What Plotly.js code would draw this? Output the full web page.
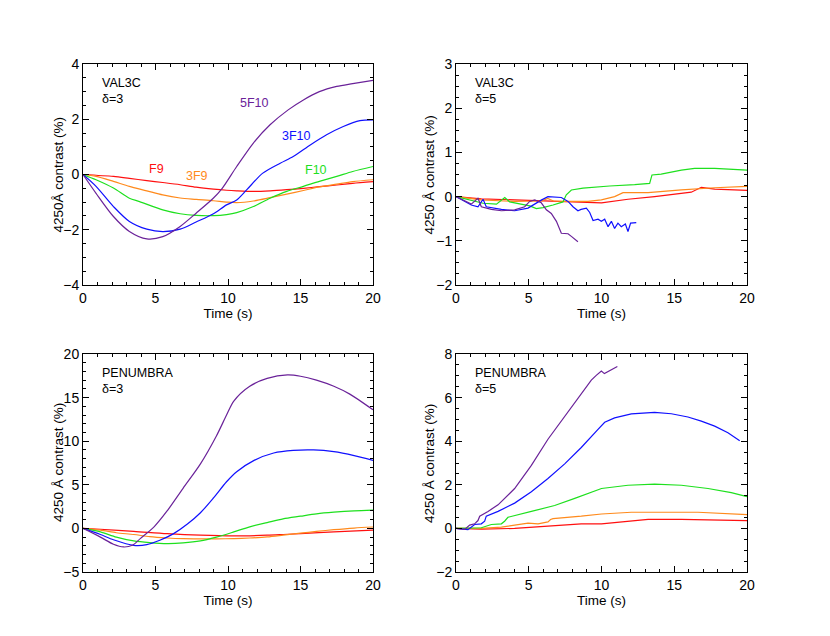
<!DOCTYPE html>
<html><head><meta charset="utf-8">
<script src="https://cdn.plot.ly/plotly-3.0.1.min.js"></script>
<style>body{margin:0;background:#fff}#c{width:830px;height:636px}</style>
</head><body><div id="c"></div>
<script>
// ---------- Panel 1: VAL3C, delta=3 ----------
const p1_F9_t   = [0,2.1,3.2,4.4,5.5,6.7,7.8,9.0,9.9,10.6,11.75,12.9,14.05,15.2,16.3,17.5,18.6,20];
const p1_F9_y   = [0,-0.07,-0.14,-0.22,-0.29,-0.37,-0.46,-0.53,-0.57,-0.59,-0.61,-0.59,-0.55,-0.5,-0.44,-0.38,-0.32,-0.26];
const p1_3F9_t  = [0,0.9,2.1,3.2,4.4,5.5,6.7,7.8,9.0,9.9,10.6,11.75,12.9,14.05,15.2,16.3,17.5,18.6,20];
const p1_3F9_y  = [0,-0.07,-0.25,-0.43,-0.59,-0.74,-0.85,-0.9,-0.95,-1.0,-1.02,-0.96,-0.84,-0.71,-0.58,-0.45,-0.35,-0.26,-0.19];
const p1_F10_t  = [0,0.9,2.1,3.2,3.9,5.5,6.7,7.8,9.0,9.9,10.6,11.75,12.9,14.05,15.2,16.3,17.5,18.6,20];
const p1_F10_y  = [0,-0.19,-0.49,-0.86,-0.98,-1.28,-1.42,-1.48,-1.49,-1.45,-1.38,-1.16,-0.86,-0.61,-0.43,-0.25,-0.07,0.11,0.29];
const p1_3F10_t = [0,0.9,2.1,3.2,4.4,5.5,6.7,7.8,9.0,9.9,10.6,11.3,12.4,13.6,14.5,15.7,16.8,17.95,19.1,20];
const p1_3F10_y = [0,-0.43,-1.16,-1.7,-1.98,-2.07,-1.98,-1.72,-1.42,-1.1,-0.92,-0.55,0.05,0.41,0.65,1.08,1.44,1.74,1.95,1.98];
const p1_5F10_t = [0,0.9,2.1,3.2,4.4,5.5,6.7,7.8,9.0,9.6,10.6,11.75,12.9,14.15,15.2,16.3,17.5,18.6,20];
const p1_5F10_y = [0,-0.68,-1.52,-2.06,-2.33,-2.25,-1.88,-1.4,-0.85,-0.5,0.29,1.14,1.8,2.34,2.7,3.0,3.19,3.29,3.41];

// ---------- Panel 2: VAL3C, delta=5 ----------
const p2_F9_t   = [0,1.74,4.03,6.32,8.6,10.0,11.82,13.65,16.17,16.86,17.78,20];
const p2_F9_y   = [0,-0.05,-0.075,-0.1,-0.11,-0.14,-0.06,0,0.1,0.21,0.17,0.14];
const p2_3F9_t  = [0,1.74,4.03,5.9,6.3,6.7,7.47,9.07,9.99,10.9,11.48,13.2,15.49,17.78,20];
const p2_3F9_y  = [0,-0.075,-0.11,-0.1,-0.04,-0.1,-0.11,-0.11,-0.075,0,0.09,0.09,0.15,0.2,0.23];
const p2_F10_t  = [0,0.94,1.86,2.78,3.35,3.69,4.14,5.07,5.52,5.98,6.67,7.35,7.58,7.93,8.73,10.56,12.28,13.31,13.47,14.1,15.49,16.4,17.78,19.15,20];
const p2_F10_y  = [0,-0.08,-0.15,-0.17,-0.02,-0.12,-0.15,-0.21,-0.27,-0.25,-0.19,-0.12,0.04,0.15,0.19,0.24,0.27,0.3,0.49,0.51,0.6,0.64,0.64,0.62,0.6];
const p2_3F10_t = [0,1.05,1.51,1.86,2.08,3.12,4.03,4.95,5.86,6.32,7.24,7.7,8.04,8.38,8.6,8.96,9.19,9.42,9.76,9.99,10.22,10.45,10.68,10.9,11.13,11.36,11.64,11.82,12.0,12.39];
const p2_3F10_y = [0,-0.19,-0.23,-0.06,-0.23,-0.29,-0.32,-0.26,-0.08,0,-0.02,-0.11,-0.23,-0.32,-0.29,-0.26,-0.36,-0.54,-0.51,-0.56,-0.51,-0.68,-0.56,-0.72,-0.6,-0.68,-0.62,-0.79,-0.6,-0.59];
const p2_5F10_t = [0,1.05,1.51,1.74,2.43,3.12,4.03,4.72,5.06,5.41,5.86,6.21,6.55,6.9,7.24,7.7,7.93,8.38];
const p2_5F10_y = [0,-0.17,-0.04,-0.23,-0.29,-0.32,-0.3,-0.23,-0.11,-0.075,-0.14,-0.3,-0.38,-0.56,-0.83,-0.84,-0.9,-1.02];

// ---------- Panel 3: PENUMBRA, delta=3 ----------
const p3_F9_t   = [0,1.2,3.5,5.8,8.1,10.4,12.7,13.8,15.0,17.3,20];
const p3_F9_y   = [0,-0.1,-0.33,-0.6,-0.78,-0.86,-0.78,-0.7,-0.6,-0.4,-0.2];
const p3_3F9_t  = [0,1.2,2.3,3.5,4.6,5.8,6.9,8.1,9.2,10.4,11.5,12.7,13.8,15.0,16.1,17.3,18.7,20];
const p3_3F9_y  = [0,-0.2,-0.5,-0.7,-0.95,-1.1,-1.18,-1.2,-1.2,-1.17,-1.1,-0.98,-0.78,-0.55,-0.35,-0.15,0.04,0.16];
const p3_F10_t  = [0,1.2,2.3,3.5,4.6,5.8,6.9,8.1,9.2,10.4,11.5,12.7,13.8,15.0,16.1,17.3,18.7,20];
const p3_F10_y  = [0,-0.4,-1.0,-1.44,-1.63,-1.74,-1.67,-1.44,-1.0,-0.4,0.18,0.67,1.1,1.4,1.67,1.86,2.02,2.1];
const p3_3F10_t = [0,1.2,2.1,3.5,4.4,5.3,6.25,7.2,8.1,9.0,9.9,10.6,11.8,13.15,14.5,15.9,17.3,18.7,20];
const p3_3F10_y = [0,-0.7,-1.3,-1.94,-1.86,-1.36,-0.6,0.5,1.8,3.5,5.35,6.5,7.8,8.65,8.95,9.0,8.8,8.35,7.8];
const p3_5F10_t = [0,1.2,2.1,2.8,3.4,3.95,4.9,5.8,6.9,8.1,9.2,9.9,10.4,11.5,12.7,14.1,15.0,16.1,17.3,18.4,20];
const p3_5F10_y = [0,-1.0,-1.82,-2.13,-1.94,-1.17,0.18,2.0,4.6,7.4,10.6,13.0,14.6,16.3,17.2,17.6,17.45,17.0,16.3,15.4,13.6];

// ---------- Panel 4: PENUMBRA, delta=5 ----------
const p4_F9_t   = [0,1.74,4.03,6.32,8.61,10.0,11.36,13.2,15.49,20];
const p4_F9_y   = [0,-0.03,0,0.11,0.21,0.21,0.29,0.41,0.41,0.36];
const p4_3F9_t  = [0,1.74,3.12,4.03,4.95,5.64,6.32,6.5,6.67,8.61,10.0,12.05,14.34,16.63,20];
const p4_3F9_y  = [0,0,0.06,0.15,0.24,0.21,0.3,0.41,0.45,0.56,0.66,0.74,0.75,0.74,0.63];
const p4_F10_t  = [0,1.74,2.43,3.12,3.34,3.57,5.18,6.78,8.16,10.0,11.82,13.65,15.49,17.32,18.92,20];
const p4_F10_y  = [0,0.03,0.18,0.21,0.33,0.51,0.78,1.05,1.38,1.83,1.98,2.03,1.98,1.83,1.64,1.46];
const p4_3F10_t = [0,0.82,1.28,1.74,1.97,2.08,2.89,4.03,5.18,6.32,7.47,8.61,9.76,10.22,10.9,12.05,13.65,14.8,15.94,16.86,17.78,18.69,19.5];
const p4_3F10_y = [0,-0.06,0.18,0.21,0.33,0.56,0.78,1.16,1.68,2.29,2.96,3.71,4.54,4.87,5.07,5.25,5.32,5.26,5.11,4.92,4.69,4.39,4.02];
const p4_5F10_t = [0,0.6,0.94,1.28,1.51,1.63,2.2,2.89,4.03,5.18,6.32,7.47,8.61,9.3,9.64,9.99,10.2,10.56,11.09];
const p4_5F10_y = [0,-0.05,0.15,0.21,0.36,0.56,0.78,1.08,1.83,2.89,4.09,5.14,6.2,6.8,7.02,7.22,7.1,7.22,7.43];

const seriesNames = ["F9","3F9","F10","3F10","5F10"];
const colors = ["#ff1010","#ff8a1c","#1ee01e","#1010ff","#6a2299"];
const panelModel = ["VAL3C","VAL3C","PENUMBRA","PENUMBRA"];
const panelDelta = ["δ=3","δ=5","δ=3","δ=5"];
const yTitles = ["4250Å contrast (%)","4250 Å contrast (%)","4250 Å contrast (%)","4250 Å contrast (%)"];
const yRanges = [[-4,4],[-2,3],[-5,20],[-2,8]];
const yDticks = [2,1,5,2];
const yMinor = [0.5,0.25,1,0.5];
const smoothPanel = [true,false,true,false];
// in-panel labels for panel 1
const labelText = ["F9","3F9","F10","3F10","5F10"];
const labelX = [5.1,7.85,16.1,14.7,11.85];
const labelY = [0.2,-0.05,0.15,1.38,2.6];

const panels = [
  [[p1_F9_t,p1_F9_y],[p1_3F9_t,p1_3F9_y],[p1_F10_t,p1_F10_y],[p1_3F10_t,p1_3F10_y],[p1_5F10_t,p1_5F10_y]],
  [[p2_F9_t,p2_F9_y],[p2_3F9_t,p2_3F9_y],[p2_F10_t,p2_F10_y],[p2_3F10_t,p2_3F10_y],[p2_5F10_t,p2_5F10_y]],
  [[p3_F9_t,p3_F9_y],[p3_3F9_t,p3_3F9_y],[p3_F10_t,p3_F10_y],[p3_3F10_t,p3_3F10_y],[p3_5F10_t,p3_5F10_y]],
  [[p4_F9_t,p4_F9_y],[p4_3F9_t,p4_3F9_y],[p4_F10_t,p4_F10_y],[p4_3F10_t,p4_3F10_y],[p4_5F10_t,p4_5F10_y]]
];

const W = 830, H = 636;
const xDom = [[83/W,373/W],[456/W,747/W],[83/W,373/W],[456/W,747/W]];
const yDom = [[1-285/H,1-64/H],[1-285/H,1-64/H],[1-572/H,1-354/H],[1-572/H,1-354/H]];
const yTitleX = [58/W, 429/W, 58/W, 429/W];
const FONT = "Liberation Sans, Arial, sans-serif";

const traces = [];
const layout = {
  width: W, height: H, margin:{l:0,r:0,t:0,b:0},
  paper_bgcolor:"#fff", plot_bgcolor:"#fff", showlegend:false,
  font:{family:FONT, size:13, color:"#000"}, annotations:[]
};
panels.forEach((pan,pi)=>{
  const sx = pi===0 ? "" : String(pi+1);
  pan.forEach((s,si)=>{
    traces.push({x:s[0], y:s[1], xaxis:"x"+sx, yaxis:"y"+sx, type:"scatter", mode:"lines",
      name:seriesNames[si], line:{color:colors[si], width:1.2,
        shape: smoothPanel[pi] ? "spline" : "linear", smoothing:0.8}});
  });
  const axCommon = {showline:true, linecolor:"#000", linewidth:1, mirror:"allticks", ticks:"inside",
    ticklen:6, tickcolor:"#000", showgrid:false, zeroline:false, tickfont:{size:14, family:FONT}};
  layout["xaxis"+sx] = Object.assign({}, axCommon, {domain:xDom[pi], range:[0,20], dtick:5, tick0:0,
    minor:{dtick:1, ticklen:3, ticks:"inside", tickcolor:"#000", showgrid:false},
    anchor:"y"+sx, title:{text:"Time (s)", font:{size:13.5, family:FONT}, standoff:2}});
  layout["yaxis"+sx] = Object.assign({}, axCommon, {domain:yDom[pi], range:yRanges[pi], dtick:yDticks[pi], tick0:0,
    minor:{dtick:yMinor[pi], ticklen:3, ticks:"inside", tickcolor:"#000", showgrid:false},
    anchor:"x"+sx});
  layout.annotations.push({xref:"paper", yref:"paper", x:yTitleX[pi], y:(yDom[pi][0]+yDom[pi][1])/2,
    xanchor:"center", yanchor:"middle", textangle:-90, text:yTitles[pi], showarrow:false,
    font:{size:13.5, family:FONT}});
  layout.annotations.push({xref:"x"+sx+" domain", yref:"y"+sx+" domain", x:0.06, y:0.955, xanchor:"left", yanchor:"top",
    text:panelModel[pi]+"<br>"+panelDelta[pi], showarrow:false, align:"left", font:{size:12.5, family:FONT}});
});
labelText.forEach((t,i)=>{
  layout.annotations.push({xref:"x", yref:"y", x:labelX[i], y:labelY[i], text:t, showarrow:false,
    font:{size:12.5, family:FONT, color:colors[i]}});
});
Plotly.newPlot("c", traces, layout, {staticPlot:true});
</script></body></html>
